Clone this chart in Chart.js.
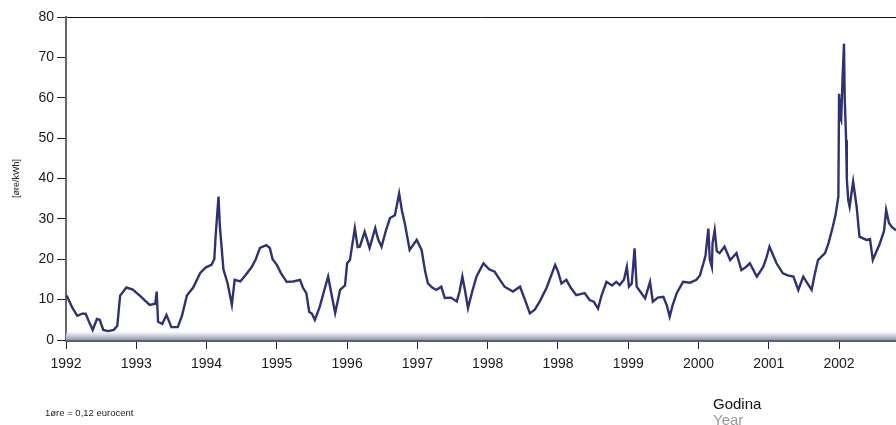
<!DOCTYPE html>
<html>
<head>
<meta charset="utf-8">
<script src="https://cdn.jsdelivr.net/npm/chart.js@4"></script>
<style>
  body { margin: 0; background: #fff; }
  #wrap { position: relative; width: 896px; height: 425px; overflow: hidden; font-family: "Liberation Sans", Arial, sans-serif; }
  .lbl { position: absolute; white-space: nowrap; }
</style>
</head>
<body>
<div id="wrap">
  <canvas id="priceChart" width="896" height="425"></canvas>
  <div class="lbl" style="left:713px; top:395px; font-size:15px; color:#111;">Godina</div>
  <div class="lbl" style="left:713px; top:411px; font-size:15px; color:#999;">Year</div>
  <div class="lbl" style="left:45px; top:407px; font-size:9.5px; color:#222;">1øre = 0,12 eurocent</div>
</div>
<script>
// tick labels as printed (1998 appears twice in the original)
const yearLabels = ['1992', '1993', '1994', '1995', '1996', '1997', '1998', '1998', '1999', '2000', '2001', '2002'];

// position along the year axis (1 unit = one labelled tick)
const positions = [
    0.01, 0.09, 0.16, 0.23, 0.28, 0.34, 0.38, 0.44, 0.48, 0.53, 0.60, 0.68, 0.73, 0.77, 0.86, 0.95,
    1.05, 1.19, 1.27, 1.29, 1.31, 1.37, 1.43, 1.50, 1.59, 1.65, 1.72, 1.81, 1.91, 1.99,
    2.07, 2.11, 2.13, 2.17, 2.19, 2.24, 2.30, 2.36, 2.40, 2.48, 2.55, 2.64, 2.70, 2.76, 2.85, 2.90, 2.94,
    3.00, 3.06, 3.14, 3.23, 3.33, 3.37, 3.42, 3.46, 3.50, 3.54, 3.61, 3.67, 3.73, 3.77, 3.83, 3.90, 3.97,
    4.00, 4.04, 4.11, 4.15, 4.18, 4.25, 4.32, 4.40, 4.44, 4.49, 4.55, 4.61, 4.68, 4.74, 4.78, 4.82, 4.89, 4.99,
    5.06, 5.11, 5.15, 5.21, 5.27, 5.34, 5.39, 5.48, 5.56, 5.60, 5.64, 5.68, 5.72, 5.78, 5.84, 5.94,
    6.02, 6.10, 6.17, 6.24, 6.36, 6.46, 6.53, 6.60, 6.67, 6.74, 6.84, 6.96,
    7.00, 7.05, 7.12, 7.18, 7.26, 7.38, 7.45, 7.51, 7.57, 7.62, 7.69, 7.77, 7.83, 7.88, 7.94, 7.98,
    8.01, 8.05, 8.09, 8.12, 8.17, 8.24, 8.31, 8.35, 8.42, 8.50, 8.55, 8.59, 8.63, 8.69, 8.78, 8.88, 8.97,
    9.02, 9.07, 9.10, 9.14, 9.16, 9.19, 9.20, 9.23, 9.26, 9.30, 9.37, 9.45, 9.54, 9.61, 9.67, 9.73, 9.83, 9.92, 9.96,
    10.01, 10.11, 10.20, 10.27, 10.35, 10.42, 10.49, 10.55, 10.61, 10.65, 10.70, 10.80, 10.85, 10.91, 10.95, 10.99,
    11.00, 11.02, 11.03, 11.05, 11.07, 11.08, 11.10, 11.11, 11.13, 11.15, 11.20, 11.25, 11.29, 11.39, 11.44,
    11.48, 11.58, 11.64, 11.67, 11.71, 11.75, 11.81
];

// price, øre/kWh
const prices = [
    11, 8, 6, 6.5, 6.5, 4, 2.5, 5.2, 5, 2.5, 2.2, 2.5, 3.5, 11, 13, 12.5,
    11, 8.7, 9, 12, 4.5, 4, 6.2, 3.2, 3.2, 6, 11, 13, 16.6, 18,
    18.6, 20, 26, 35.5, 28, 17.5, 14, 8.7, 14.9, 14.5, 16, 18, 20, 22.8, 23.5, 22.8, 20,
    18.6, 16.5, 14.4, 14.5, 14.9, 13, 11.6, 7, 6.5, 5, 8.2, 12, 15.7, 12, 6.7, 12.4, 13.5,
    19, 19.8, 27.7, 23, 23.1, 26.8, 22.8, 27.7, 25, 23.1, 27, 30.2, 30.9, 36.3, 32, 29, 22.3, 24.8,
    22.3, 17, 14, 13, 12.4, 13.2, 10.4, 10.5, 9.5, 12, 15.7, 12, 7.9, 12, 15.7, 19,
    17.5, 16.9, 15, 13.2, 12, 13.2, 10, 6.6, 7.5, 9.5, 13, 18.6,
    17, 14, 14.9, 13, 11.1, 11.6, 9.9, 9.5, 7.8, 11, 14.4, 13.5, 14.4, 13.6, 15, 18.1,
    13.2, 14, 22.7, 13.2, 12, 10.3, 14.4, 9.5, 10.5, 10.7, 8.5, 5.8, 8.5, 11.6, 14.4, 14.2, 14.9,
    16, 19, 21, 27.6, 20, 18.1, 24, 27.2, 22, 21.5, 23.1, 19.8, 21.5, 17.3, 18, 19, 15.7, 18.1, 20,
    23.1, 19, 16.5, 16, 15.7, 12.4, 15.7, 14, 12.4, 16, 19.8, 21.5, 24, 28, 31, 35.5,
    61, 55, 54.5, 65, 73.4, 60, 49.5, 40, 34.7, 33, 39.2, 33, 25.6, 24.8, 25,
    19.8, 23.9, 27, 32.2, 29, 28, 27.2
];

const axisFont = { family: '"Liberation Sans", Arial, sans-serif', size: 14 };

// soft shaded strip along the floor of the plot, as in the printed original
const floorShade = {
    id: 'floorShade',
    beforeDatasetsDraw(chart) {
        const { ctx, chartArea } = chart;
        const g = ctx.createLinearGradient(0, chartArea.bottom - 9, 0, chartArea.bottom);
        g.addColorStop(0, 'rgba(220,222,232,0)');
        g.addColorStop(0.5, 'rgba(205,207,220,1)');
        g.addColorStop(1, 'rgba(150,153,172,1)');
        ctx.save();
        ctx.fillStyle = g;
        ctx.fillRect(chartArea.left, chartArea.bottom - 9, chartArea.right - chartArea.left, 9);
        ctx.restore();
    }
};

new Chart(document.getElementById('priceChart'), {
    type: 'line',
    data: {
        datasets: [{
            data: positions.map((p, i) => ({ x: p, y: prices[i] })),
            borderColor: '#2f3271',
            borderWidth: 2.4,
            pointRadius: 0,
            tension: 0
        }]
    },
    plugins: [floorShade],
    options: {
        responsive: false,
        animation: false,
        layout: { padding: { top: 17, left: 0, right: 0, bottom: 0 } },
        plugins: { legend: { display: false }, tooltip: { enabled: false } },
        scales: {
            x: {
                type: 'linear',
                min: 0,
                max: 11.81,
                afterBuildTicks: s => { s.ticks = yearLabels.map((_, i) => ({ value: i })); },
                afterFit: s => { s.height = 85; },
                ticks: {
                    callback: v => yearLabels[v],
                    autoSkip: false,
                    maxRotation: 0,
                    padding: 7,
                    color: '#1a1a1a',
                    font: axisFont
                },
                grid: { drawOnChartArea: false, tickLength: 9, tickColor: '#222' },
                border: { color: '#5c6075', width: 3 }
            },
            y: {
                min: 0,
                max: 80,
                afterFit: s => { s.width = 66; },
                ticks: { stepSize: 10, padding: 3, color: '#1a1a1a', font: axisFont },
                grid: {
                    color: c => (c.tick && c.tick.value === 80 ? '#111' : 'rgba(0,0,0,0)'),
                    tickColor: '#222',
                    tickLength: 9
                },
                border: { color: '#666', width: 2 },
                title: {
                    display: true,
                    text: '[øre/kWh]',
                    color: '#222',
                    font: { family: '"Liberation Sans", Arial, sans-serif', size: 9 },
                    padding: { top: 11, bottom: 0 }
                }
            }
        }
    }
});
</script>
</body>
</html>
